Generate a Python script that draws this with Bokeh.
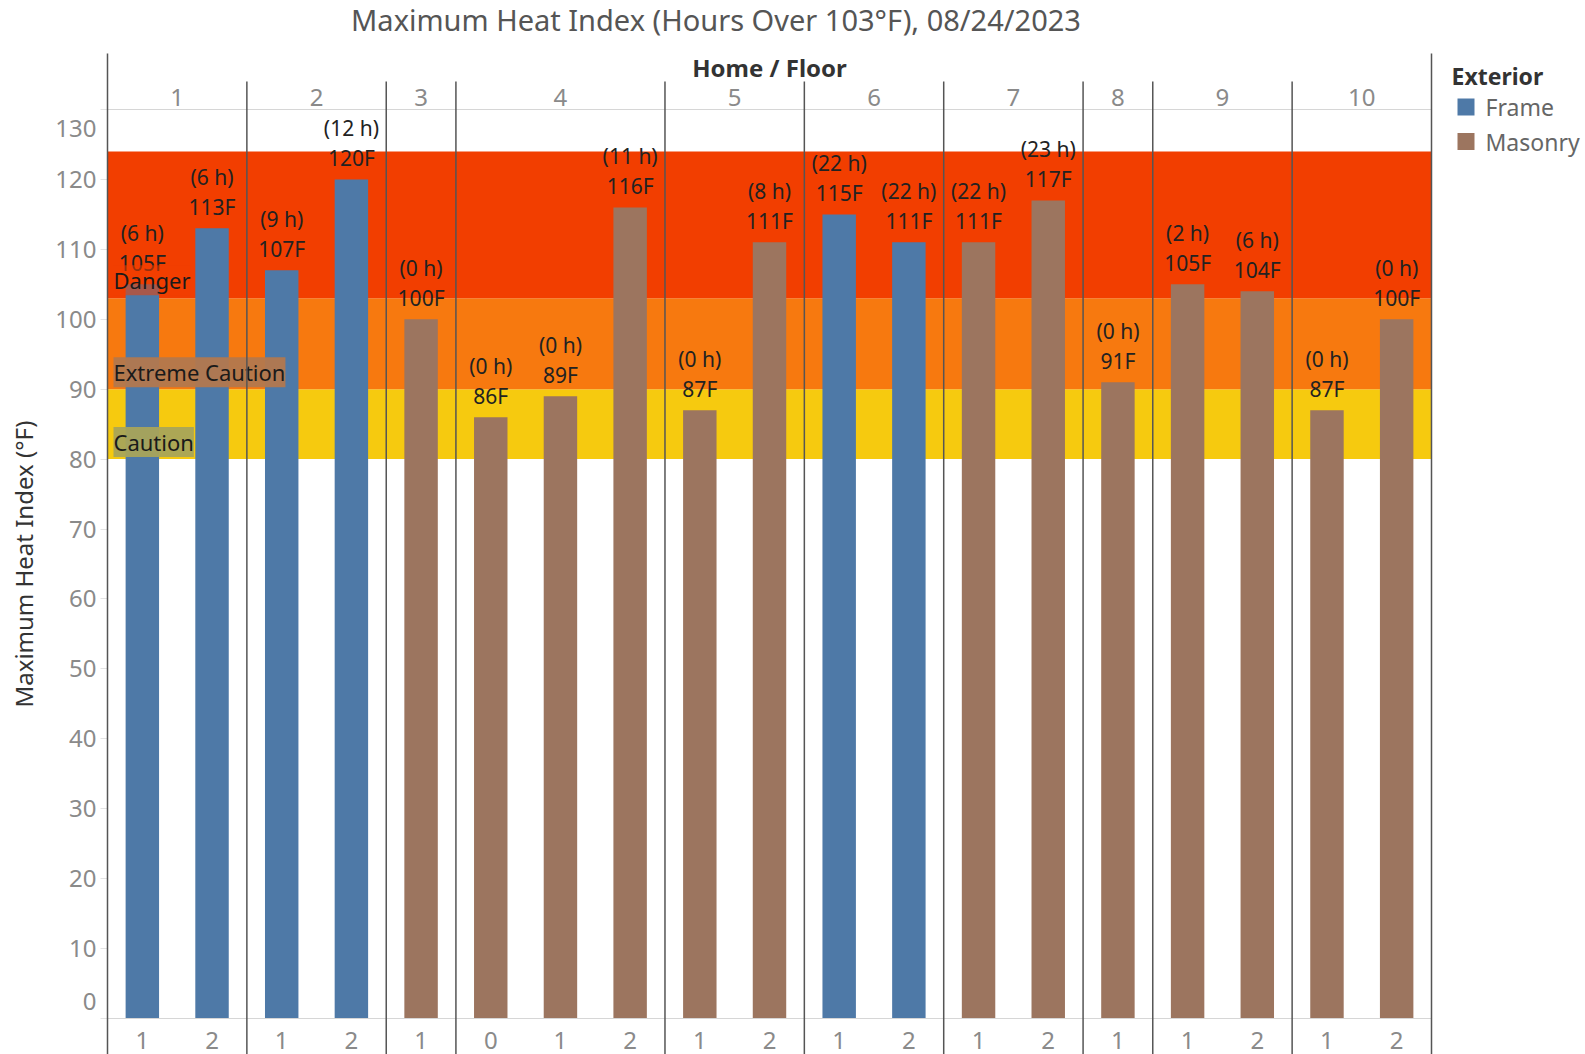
from bokeh.plotting import figure
from bokeh.models import (Range1d, LinearAxis, FixedTicker, Label, ColumnDataSource)
from bokeh.embed import file_html
from bokeh.resources import INLINE
from bokeh.core.properties import value

# ---- data -------------------------------------------------------------
homes = [1, 1, 2, 2, 3, 4, 4, 4, 5, 5, 6, 6, 7, 7, 8, 9, 9, 10, 10]
floors = ["1", "2", "1", "2", "1", "0", "1", "2", "1", "2",
          "1", "2", "1", "2", "1", "1", "2", "1", "2"]
exterior = ["Frame", "Frame", "Frame", "Frame", "Masonry", "Masonry", "Masonry",
            "Masonry", "Masonry", "Masonry", "Frame", "Frame", "Masonry", "Masonry",
            "Masonry", "Masonry", "Masonry", "Masonry", "Masonry"]
max_heat_index = [105, 113, 107, 120, 100, 86, 89, 116, 87, 111,
                  115, 111, 111, 117, 91, 105, 104, 87, 100]
hours_over_103 = [6, 6, 9, 12, 0, 0, 0, 11, 0, 8,
                  22, 22, 22, 23, 0, 2, 6, 0, 0]

band_names = ["Caution", "Extreme Caution", "Danger"]
band_low = [80, 90, 103]
band_high = [90, 103, 124]

y_ticks = list(range(0, 131, 10))

TITLE = "Maximum Heat Index (Hours Over 103°F), 08/24/2023"

# ---- styles -----------------------------------------------------------
FONT = "Noto Sans"
ext_colors = {"Frame": "#4e79a7", "Masonry": "#9c755f"}
band_colors = ["#f6ca0f", "#f7790f", "#f23e00"]
band_label_fill = ["#a8a45a", "#b2784e", "#f23e00"]
band_label_alpha = [0.95, 0.95, 0.55]
band_label_lift = [17, 17, 18]
sep_color = "#555555"
tick_grey = "#8a8a8a"

n = len(max_heat_index)
y_max = y_ticks[-1]
slot_x = [i + 0.5 for i in range(n)]

# plot frame in canvas pixels
FRAME_L, FRAME_R, FRAME_T, FRAME_B = 107, 1431, 109, 1018
W, H = 1585, 1054


def px_x(px):
    """canvas x pixel -> data x"""
    return (px - FRAME_L) * n / (FRAME_R - FRAME_L)


def px_y(py):
    """canvas y pixel -> data y"""
    return (FRAME_B - py) * y_max / (FRAME_B - FRAME_T)


# group slots by home -> centres and boundaries
home_order = []
for h in homes:
    if h not in home_order:
        home_order.append(h)
home_centres = []
boundaries = []
for h in home_order:
    idx = [i for i, hh in enumerate(homes) if hh == h]
    home_centres.append((idx[0] + idx[-1] + 1) / 2)
    boundaries.append(idx[-1] + 1)
inner_bounds = boundaries[:-1]

src = ColumnDataSource(dict(
    x=slot_x,
    top=max_heat_index,
    exterior=exterior,
    color=[ext_colors[e] for e in exterior],
    val=[f"{v}F" for v in max_heat_index],
    hrs=[f"({h} h)" for h in hours_over_103],
))

p = figure(width=W, height=H, output_backend="svg", toolbar_location=None,
           title=None,
           x_range=Range1d(0, n), y_range=Range1d(0, y_max),
           x_axis_location=None, y_axis_location=None,
           min_border_left=FRAME_L, min_border_right=W - FRAME_R,
           min_border_top=FRAME_T, min_border_bottom=H - FRAME_B)
p.outline_line_color = None
p.xgrid.visible = False
p.ygrid.visible = False
p.background_fill_color = "white"
p.border_fill_color = "white"

# heat-index bands
band_src = ColumnDataSource(dict(lo=band_low, hi=band_high, color=band_colors))
p.quad(left=0, right=n, bottom="lo", top="hi", fill_color="color",
       line_color=None, source=band_src)

# bars
p.vbar(x="x", top="top", width=0.48, fill_color="color", line_color=None,
       source=src)

# value labels above bars
p.text(x="x", y="top", text="val", source=src, y_offset=-21,
       text_align="center", text_baseline="alphabetic",
       text_font=value(FONT), text_font_size="21px", text_color="#222222")
p.text(x="x", y="top", text="hrs", source=src, y_offset=-51,
       text_align="center", text_baseline="alphabetic",
       text_font=value(FONT), text_font_size="21px", text_color="#222222")

# band captions
for name, lo, fill, alpha, lift in zip(band_names, band_low, band_label_fill,
                                        band_label_alpha, band_label_lift):
    p.add_layout(Label(x=0, y=lo, x_offset=6, y_offset=lift, text=name,
                       text_font=FONT, text_font_size="22px", text_color="#1a1a1a",
                       text_baseline="alphabetic", text_align="left",
                       background_fill_color=fill, background_fill_alpha=alpha))

# panel separators and outer borders (extend into header and footer)
top_sep = px_y(81)
top_border = px_y(53)
bottom_ext = px_y(H + 2)
p.segment(x0=inner_bounds, y0=[bottom_ext] * len(inner_bounds),
          x1=inner_bounds, y1=[top_sep] * len(inner_bounds),
          line_color=sep_color, line_width=1.5, level="overlay")
p.segment(x0=[0, n], y0=[bottom_ext] * 2, x1=[0, n], y1=[top_border] * 2,
          line_color=sep_color, line_width=1.5, level="overlay")

# y axis
yaxis = LinearAxis(ticker=FixedTicker(ticks=y_ticks),
                   major_label_overrides={y_ticks[0]: "", y_ticks[-1]: ""},
                   axis_label="Maximum Heat Index (°F)")
yaxis.axis_line_color = None
yaxis.major_tick_out = 7
yaxis.major_tick_in = 0
yaxis.major_tick_line_color = "#e3e3e3"
yaxis.minor_tick_line_color = None
yaxis.major_label_standoff = 4
yaxis.major_label_text_font = FONT
yaxis.major_label_text_font_size = "24px"
yaxis.major_label_text_color = tick_grey
yaxis.axis_label_text_font = FONT
yaxis.axis_label_text_font_size = "24px"
yaxis.axis_label_text_font_style = "normal"
yaxis.axis_label_text_color = "#333333"
yaxis.axis_label_standoff = 12
p.add_layout(yaxis, "left")

# end labels of the value axis sit just inside the pane
end_src = ColumnDataSource(dict(
    y=[y_ticks[0], y_ticks[-1]],
    t=[str(y_ticks[0]), str(y_ticks[-1])],
    dy=[-17, 19],
))
p.text(x=0, y="y", text="t", source=end_src, x_offset=-11, y_offset="dy",
       text_align="right", text_baseline="middle",
       text_font=value(FONT), text_font_size="24px", text_color=tick_grey,
       level="overlay")

# home header (top) and floor labels (bottom)
top_axis = LinearAxis(ticker=FixedTicker(ticks=home_centres),
                      major_label_overrides={c: str(h) for c, h in zip(home_centres, home_order)},
                      axis_label="Home / Floor")
bottom_axis = LinearAxis(ticker=FixedTicker(ticks=slot_x),
                         major_label_overrides={x: f for x, f in zip(slot_x, floors)})
for ax in (top_axis, bottom_axis):
    ax.axis_line_color = "#d6d6d6"
    ax.major_tick_line_color = None
    ax.minor_tick_line_color = None
    ax.major_tick_out = 0
    ax.major_tick_in = 0
    ax.major_label_text_font = FONT
    ax.major_label_text_font_size = "24px"
    ax.major_label_text_color = tick_grey
top_axis.major_label_standoff = 4
top_axis.axis_label_text_font = FONT
top_axis.axis_label_text_font_size = "24px"
top_axis.axis_label_text_font_style = "bold"
top_axis.axis_label_text_color = "#333333"
top_axis.axis_label_standoff = 2
bottom_axis.major_label_standoff = 13
p.add_layout(top_axis, "above")
p.add_layout(bottom_axis, "below")

# title, centred over the axis + plot area
p.text(x=[px_x(FRAME_R / 2)], y=[px_y(19)], text=[TITLE],
       text_align="center", text_baseline="middle",
       text_font=value(FONT), text_font_size="29px", text_color="#555555",
       level="overlay")

# legend for the exterior colours
legend_labels = list(ext_colors.keys())
legend_rows = [106.5, 141.0]
sw_l, sw_r = px_x(1457), px_x(1474)
p.text(x=[px_x(1451)], y=[px_y(75)], text=["Exterior"],
       text_align="left", text_baseline="middle",
       text_font=value(FONT), text_font_size="23px", text_font_style="bold",
       text_color="#333333", level="overlay")
for label, row in zip(legend_labels, legend_rows):
    sw_t, sw_b = px_y(row - 8.5), px_y(row + 8.5)
    p.patch(x=[sw_l, sw_r, sw_r, sw_l], y=[sw_b, sw_b, sw_t, sw_t],
            fill_color=ext_colors[label], line_color=None, level="overlay")
p.text(x=[px_x(1485)] * len(legend_labels), y=[px_y(r) for r in legend_rows],
       text=legend_labels, text_align="left", text_baseline="middle",
       text_font=value(FONT), text_font_size="23px", text_color="#666666",
       level="overlay")

open("out.html", "w").write(file_html(p, INLINE))
